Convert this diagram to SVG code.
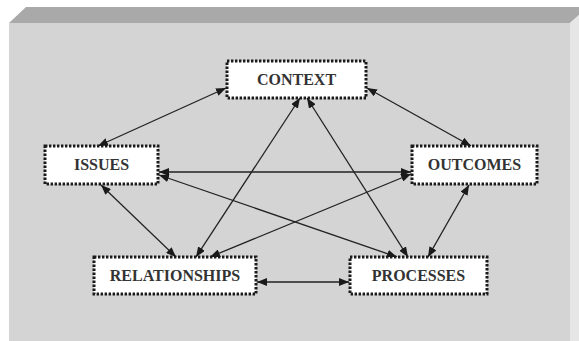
<svg xmlns="http://www.w3.org/2000/svg" width="579" height="341" viewBox="0 0 579 341">
<style>
.box{fill:#fff;stroke:#1a1a1a;stroke-width:3;stroke-dasharray:2.4 1.6}
.lbl{font-family:"Liberation Serif","Times New Roman",serif;font-weight:bold;font-size:16px;fill:#333;text-anchor:middle}
.con{stroke:#222;stroke-width:1.3;fill:none;marker-start:url(#ah);marker-end:url(#ah)}
</style>
<defs>
<marker id="ah" viewBox="0 0 10 8" refX="10" refY="4" markerWidth="10" markerHeight="8" markerUnits="userSpaceOnUse" orient="auto-start-reverse">
<path d="M0,0 L10,4 L0,8 Z" fill="#1a1a1a"/>
</marker>
</defs>
<rect x="0" y="0" width="579" height="341" fill="#fff"/>
<g id="slab">
<polygon points="9,23 26,7 579,7 579,15 570,23" fill="#a9a9a9"/>
<polygon points="570,23 579,15 579,341 570,341" fill="#e6e6e6"/>
<rect x="9" y="23" width="561" height="318" fill="#d4d4d4"/>
</g>
<g id="connectors">
<line class="con" x1="226" y1="88" x2="98" y2="146"/>
<line class="con" x1="367" y1="88" x2="471" y2="146"/>
<line class="con" x1="300" y1="98" x2="196" y2="257"/>
<line class="con" x1="307" y1="98" x2="408" y2="257"/>
<line class="con" x1="159" y1="172" x2="411" y2="172"/>
<line class="con" x1="159" y1="175" x2="397" y2="257"/>
<line class="con" x1="411" y1="174" x2="210" y2="257"/>
<line class="con" x1="101" y1="185" x2="176" y2="257"/>
<line class="con" x1="469" y1="185" x2="428" y2="257"/>
<line class="con" x1="257" y1="282" x2="349" y2="282"/>
</g>
<g id="context"><rect class="box" x="227" y="61" width="139" height="37"/><text class="lbl" x="296.5" y="85">CONTEXT</text></g>
<g id="issues"><rect class="box" x="45" y="146" width="113" height="38"/><text class="lbl" x="101.5" y="170">ISSUES</text></g>
<g id="outcomes"><rect class="box" x="412" y="146" width="125" height="38"/><text class="lbl" x="474.5" y="170">OUTCOMES</text></g>
<g id="relationships"><rect class="box" x="94" y="257" width="162" height="37"/><text class="lbl" x="175" y="281">RELATIONSHIPS</text></g>
<g id="processes"><rect class="box" x="350" y="257" width="137" height="37"/><text class="lbl" x="418.5" y="281">PROCESSES</text></g>
</svg>
